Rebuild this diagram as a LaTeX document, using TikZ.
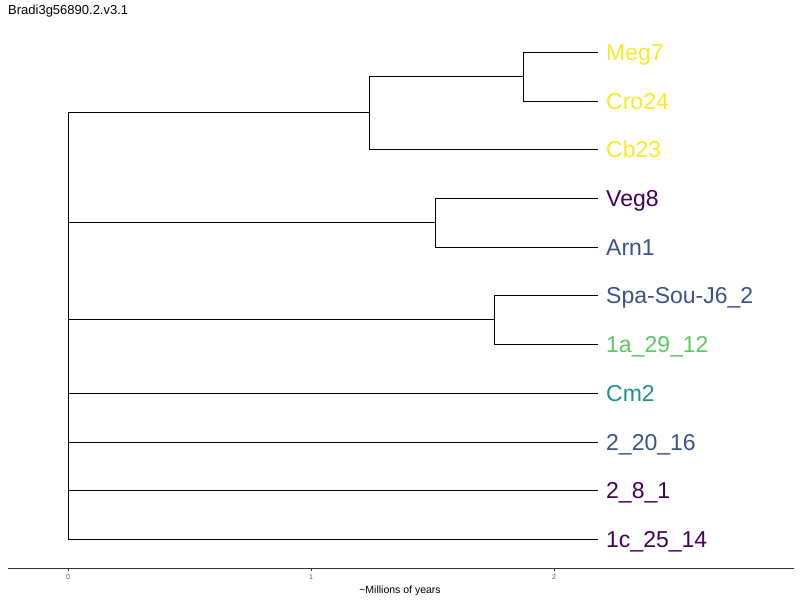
\documentclass[tikz,border=0pt]{standalone}
\usepackage{fontspec}
\setmainfont{Liberation Sans}
\definecolor{vyellow}{HTML}{FDE725}
\definecolor{vpurple}{HTML}{440154}
\definecolor{vblue}{HTML}{3B528B}
\definecolor{vgreen}{HTML}{5DC863}
\definecolor{vteal}{HTML}{21908C}
\definecolor{axisgrey}{HTML}{333333}
\definecolor{ticktext}{HTML}{4D4D4D}
\begin{document}
\begin{tikzpicture}[x=1pt,y=-1pt,
  branch/.style={draw=black,line width=0.8pt},
  tiplabel/.style={anchor=base west,inner sep=0pt,font=\fontsize{23}{23}\selectfont},
  axisline/.style={draw=axisgrey,line width=1pt},
  ticklabel/.style={anchor=north,inner sep=0pt,text=ticktext,font=\fontsize{7}{7}\selectfont}]
\useasboundingbox (0,0) rectangle (800,600);

% title
\node[anchor=base west,inner sep=0pt,font=\fontsize{13}{13}\selectfont] (title) at (8,14) {Bradi3g56890.2.v3.1};

% leaf tips
\foreach \i/\y in {1/52,2/101,3/149,4/198,5/247,6/295,7/344,8/393,9/442,10/490,11/539}
  \coordinate (t\i) at (598,\y);

% leaf labels
\node[tiplabel,text=vyellow] (l1) at (606,60) {Meg7};
\node[tiplabel,text=vyellow] (l2) at (606,109) {Cro24};
\node[tiplabel,text=vyellow] (l3) at (606,157) {Cb23};
\node[tiplabel,text=vpurple] (l4) at (606,206) {Veg8};
\node[tiplabel,text=vblue] (l5) at (606,255) {Arn1};
\node[tiplabel,text=vblue] (l6) at (606,303) {Spa-Sou-J6\_2};
\node[tiplabel,text=vgreen] (l7) at (606,352) {1a\_29\_12};
\node[tiplabel,text=vteal] (l8) at (606,401) {Cm2};
\node[tiplabel,text=vblue] (l9) at (606,450) {2\_20\_16};
\node[tiplabel,text=vpurple] (l10) at (606,498) {2\_8\_1};
\node[tiplabel,text=vpurple] (l11) at (606,547) {1c\_25\_14};

% internal nodes
\coordinate (nA) at (523,76.5);
\coordinate (nB) at (369,112.75);
\coordinate (nC) at (435,222.5);
\coordinate (nD) at (494,319.5);
\coordinate (root) at (68,326);

% clade (Meg7, Cro24)
\draw[branch] (nA |- t1) -- (t1);
\draw[branch] (nA |- t2) -- (t2);
\draw[branch] (nA |- t1) -- (nA |- t2);
% clade ((Meg7, Cro24), Cb23)
\draw[branch] (nB |- nA) -- (nA);
\draw[branch] (nB |- t3) -- (t3);
\draw[branch] (nB |- nA) -- (nB |- t3);
% clade (Veg8, Arn1)
\draw[branch] (nC |- t4) -- (t4);
\draw[branch] (nC |- t5) -- (t5);
\draw[branch] (nC |- t4) -- (nC |- t5);
% clade (Spa-Sou-J6_2, 1a_29_12)
\draw[branch] (nD |- t6) -- (t6);
\draw[branch] (nD |- t7) -- (t7);
\draw[branch] (nD |- t6) -- (nD |- t7);
% root and its children
\draw[branch] (root |- nB) -- (nB);
\draw[branch] (root |- nC) -- (nC);
\draw[branch] (root |- nD) -- (nD);
\draw[branch] (root |- t8) -- (t8);
\draw[branch] (root |- t9) -- (t9);
\draw[branch] (root |- t10) -- (t10);
\draw[branch] (root |- t11) -- (t11);
\draw[branch] (root |- nB) -- (root |- t11);

% time axis
\coordinate (axL) at (8,568);
\coordinate (axR) at (794,568);
\draw[axisline] (axL) -- (axR);
\foreach \x/\lab in {68/0,311/1,554/2}{
  \draw[axisline,line width=0.6pt] (\x,568) -- (\x,571);
  \node[ticklabel] (tick\lab) at (\x,574) {\lab};
}
\node[anchor=base,inner sep=0pt,font=\fontsize{10.5}{10.5}\selectfont] (axtitle) at (400,593) {\textasciitilde Millions of years};
\end{tikzpicture}
\end{document}
